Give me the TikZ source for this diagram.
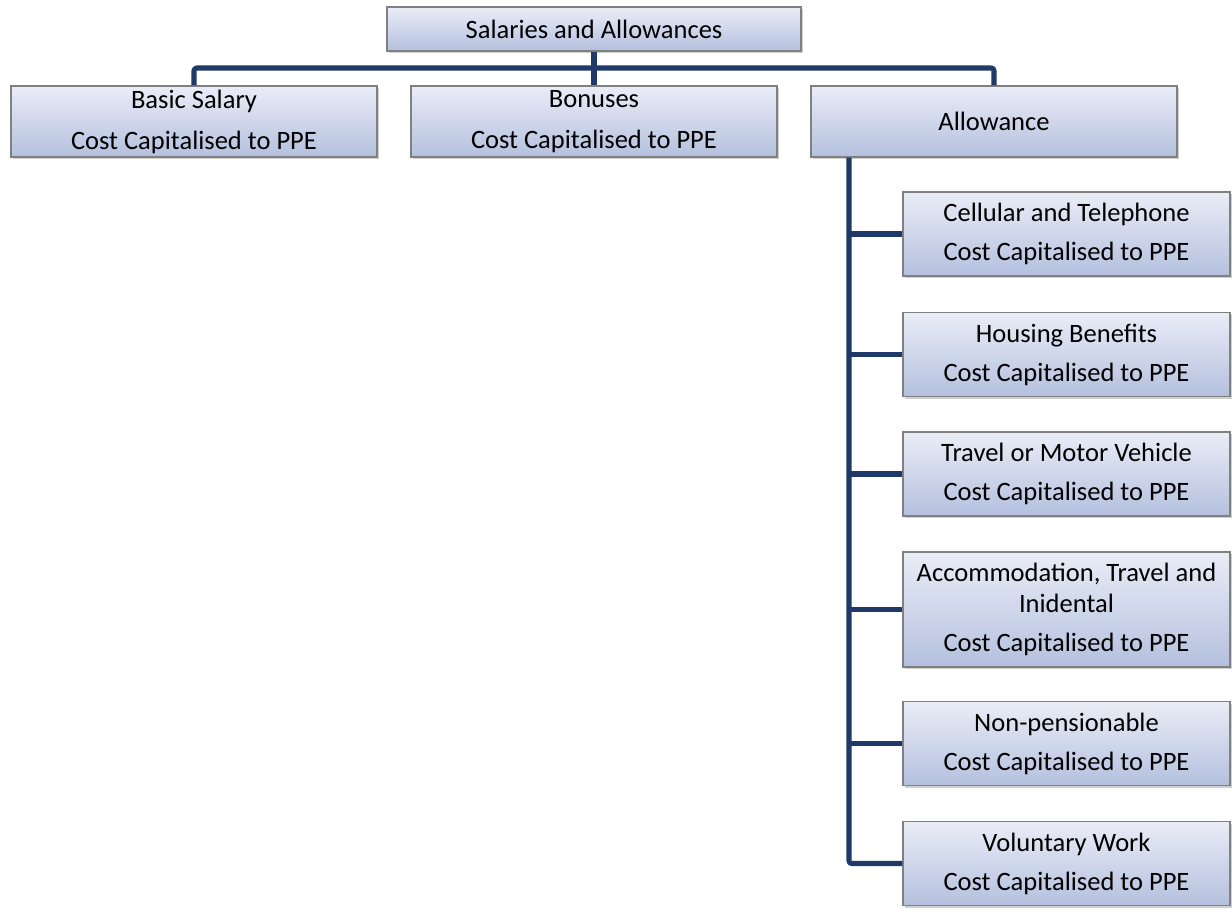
\documentclass[tikz,border=0pt]{standalone}
\usepackage{fontspec}
\setmainfont{Carlito}
\usetikzlibrary{shadows}
\definecolor{boxtop}{RGB}{234,237,247}
\definecolor{boxbot}{RGB}{180,192,222}
\definecolor{boxline}{RGB}{128,128,128}
\definecolor{conncol}{RGB}{31,58,104}
\tikzset{
  box/.style={rectangle, draw=boxline, line width=0.8pt, top color=boxtop, bottom color=boxbot,
    inner sep=0pt, align=center, text=black,
    font=\fontsize{19.9}{23.3}\selectfont,
    drop shadow={shadow xshift=1.2pt, shadow yshift=-1.5pt, opacity=0.3, fill=black!60}},
  topbox/.style={box, minimum width=414*0.75pt, minimum height=44*0.75pt},
  lvlbox/.style={box, minimum width=366*0.75pt, minimum height=71*0.75pt},
  childbox/.style={box, minimum width=327*0.75pt, minimum height=84*0.75pt},
  conn/.style={draw=conncol, line width=3.8pt, line join=round, rounded corners=2pt},
}
\begin{document}
\begin{tikzpicture}[x=0.75pt,y=-0.75pt]
\useasboundingbox[fill=white] (0,0) rectangle (1232,908);
\coordinate (bus) at (594,68);
\coordinate (spine) at (849,150);
\node[topbox] (top) at (594,29) {Salaries and Allowances};
\node[lvlbox] (basic) at (194,121.5) {Basic Salary\\[7.5pt]Cost Capitalised to PPE};
\node[lvlbox] (bonus) at (594,121.5) {Bonuses\\[7.5pt]Cost Capitalised to PPE};
\node[lvlbox] (allow) at (994,121.5) {Allowance};
\node[childbox] (c1) at (1066.5,234) {Cellular and Telephone\\[6pt]Cost Capitalised to PPE};
\node[childbox] (c2) at (1066.5,354.5) {Housing Benefits\\[6pt]Cost Capitalised to PPE};
\node[childbox] (c3) at (1066.5,474) {Travel or Motor Vehicle\\[6pt]Cost Capitalised to PPE};
\node[childbox, minimum height=115*0.75pt] (c4) at (1066.5,609.5) {Accommodation, Travel and\\Inidental\\[6pt]Cost Capitalised to PPE};
\node[childbox] (c5) at (1066.5,743.5) {Non-pensionable\\[6pt]Cost Capitalised to PPE};
\node[childbox] (c6) at (1066.5,863.5) {Voluntary Work\\[6pt]Cost Capitalised to PPE};
\draw[conn] (basic.north) |- (bus) -| (allow.north);
\draw[conn] (top.south) -- (bonus.north);
\draw[conn] (allow.south -| spine) |- (c6.west);
\foreach \c in {c1,c2,c3,c4,c5}{
  \draw[conn] (spine |- \c.west) -- (\c.west);
}
\end{tikzpicture}
\end{document}
